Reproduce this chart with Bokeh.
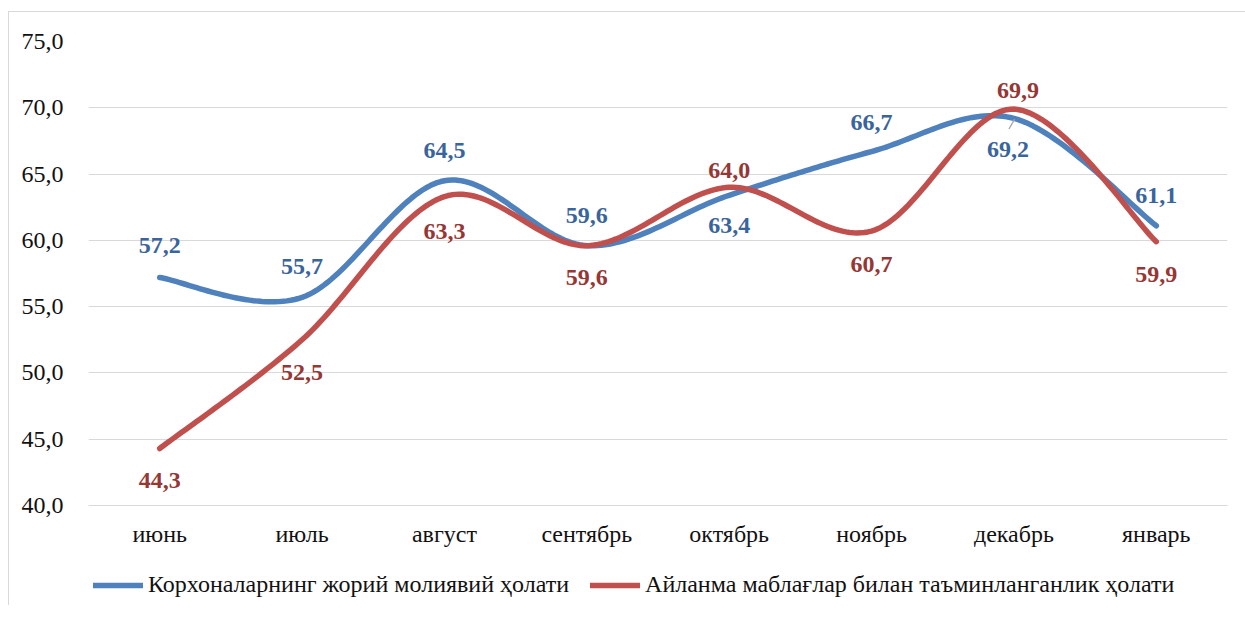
import numpy as np
from bokeh.plotting import figure
from bokeh.layouts import column
from bokeh.models import (ColumnDataSource, FixedTicker, CustomJSTickFormatter,
                          Legend, LegendItem, Range1d)
from bokeh.core.properties import value
from bokeh.embed import file_html
from bokeh.resources import INLINE

# ---------------- data ----------------
months = ["июнь", "июль", "август", "сентябрь", "октябрь", "ноябрь", "декабрь", "январь"]
current_state = [57.2, 55.7, 64.5, 59.6, 63.4, 66.7, 69.2, 61.1]
working_capital = [44.3, 52.5, 63.3, 59.6, 64.0, 60.7, 69.9, 59.9]
name_current = "Корхоналарнинг жорий молиявий ҳолати"
name_working = "Айланма маблағлар билан таъминланганлик ҳолати"
y_ticks = [40, 45, 50, 55, 60, 65, 70, 75]

# label placement (screen pixels, styling only)
cur_dx = [0, 0, 0, 0, 0, 0, -6, 0]
cur_dy = [-32, -31, -30, -30, 30, -29, 31, -30]
wc_dx = [0, 0, 0, 0, 0, 0, 4, 0]
wc_dy = [32, 33, 35, 32, -17, 33, -19, 33]

FONT = "Liberation Serif"
BLUE, RED = "#4F81BD", "#C0504D"
BLUE_LBL, RED_LBL = "#3A659C", "#953735"
LW = 5.5


def smooth(xs, ys, n=40):
    """Excel-like smoothed line (Catmull-Rom bezier through the points)."""
    P = np.column_stack([xs, ys]).astype(float)
    P = np.vstack([P[0], P, P[-1]])
    out = []
    t = np.linspace(0, 1, n)[:, None]
    for i in range(1, len(P) - 2):
        p0, p1, p2, p3 = P[i - 1], P[i], P[i + 1], P[i + 2]
        b1 = p1 + (p2 - p0) / 6.0
        b2 = p2 - (p3 - p1) / 6.0
        seg = ((1 - t) ** 3) * p1 + 3 * ((1 - t) ** 2) * t * b1 + 3 * (1 - t) * t ** 2 * b2 + t ** 3 * p2
        out.append(seg if i == 1 else seg[1:])
    arr = np.vstack(out)
    return arr[:, 0], arr[:, 1]


xpos = [i + 0.5 for i in range(len(months))]

W = 1236
p = figure(width=W, height=556, x_range=Range1d(0, len(months)), y_range=Range1d(40, 75),
           output_backend="svg", toolbar_location=None,
           min_border_left=79, min_border_right=18, min_border_top=29, min_border_bottom=63)
p.outline_line_color = None
p.background_fill_color = "white"
p.border_fill_color = "white"

p.xgrid.visible = False
p.ygrid.grid_line_color = "#d9d9d9"
p.ygrid.grid_line_width = 1

p.xaxis.ticker = FixedTicker(ticks=xpos)
p.xaxis.formatter = CustomJSTickFormatter(args=dict(names=months),
                                          code="const i = Math.floor(tick); return names[i] || '';")
p.yaxis.ticker = FixedTicker(ticks=y_ticks)
p.yaxis.formatter = CustomJSTickFormatter(code="return tick.toFixed(1).replace('.', ',');")
for ax in (p.xaxis[0], p.yaxis[0]):
    ax.major_tick_line_color = None
    ax.minor_tick_line_color = None
    ax.major_label_text_font = FONT
    ax.major_label_text_color = "#111111"
    ax.major_label_text_font_size = "24px"
p.yaxis.axis_line_color = None
p.xaxis.axis_line_color = "#d9d9d9"
p.xaxis.major_label_standoff = 9
p.yaxis.major_label_standoff = 19

sx, sy = smooth(xpos, current_state)
p.line(sx, sy, line_color=BLUE, line_width=LW, line_cap="round", line_join="round")
sx2, sy2 = smooth(xpos, working_capital)
p.line(sx2, sy2, line_color=RED, line_width=LW, line_cap="round", line_join="round")

# leader line for the December label of the first series
dec = months.index("декабрь")
p.segment(x0=[xpos[dec] + 0.005], y0=[current_state[dec] - 0.05],
          x1=[xpos[dec] - 0.035], y1=[current_state[dec] - 0.8],
          line_color="#a6a6a6", line_width=1.3)

def fmt(v):
    return f"{v:.1f}".replace(".", ",")

src1 = ColumnDataSource(dict(x=xpos, y=current_state, t=[fmt(v) for v in current_state],
                             dx=cur_dx, dy=cur_dy))
src2 = ColumnDataSource(dict(x=xpos, y=working_capital, t=[fmt(v) for v in working_capital],
                             dx=wc_dx, dy=wc_dy))
p.text(x="x", y="y", text="t", x_offset="dx", y_offset="dy", source=src1,
       text_font=value(FONT), text_font_size="24px", text_font_style="bold",
       text_color=BLUE_LBL, text_align="center", text_baseline="middle")
p.text(x="x", y="y", text="t", x_offset="dx", y_offset="dy", source=src2,
       text_font=value(FONT), text_font_size="24px", text_font_style="bold",
       text_color=RED_LBL, text_align="center", text_baseline="middle")

# ---- legend strip below the chart (same series, drawn outside this strip's view) ----
q = figure(width=W, height=37, x_range=Range1d(0, len(months)), y_range=Range1d(0, 1),
           output_backend="svg", toolbar_location=None,
           x_axis_type=None, y_axis_type=None,
           min_border_left=79, min_border_right=18, min_border_top=0, min_border_bottom=0)
q.outline_line_color = None
q.xgrid.visible = False
q.ygrid.visible = False
k1 = q.line(xpos, current_state, line_color=BLUE, line_width=LW, line_cap="round")
k2 = q.line(xpos, working_capital, line_color=RED, line_width=LW, line_cap="round")
legend = Legend(items=[LegendItem(label=name_current, renderers=[k1]),
                       LegendItem(label=name_working, renderers=[k2])],
                orientation="horizontal", location=(5, 7),
                padding=0, margin=0, spacing=21, label_standoff=5,
                glyph_width=50, glyph_height=24, label_height=24,
                label_text_font=FONT, label_text_font_size="24px",
                label_text_color="#111111",
                border_line_color=None, background_fill_alpha=0)
q.add_layout(legend)

page = column(p, q, spacing=0)
page.styles = {"margin-top": "11px", "margin-left": "8px",
               "border-left": "1px solid #d9d9d9", "border-top": "1px solid #d9d9d9"}

open("out.html", "w").write(file_html(page, INLINE))
